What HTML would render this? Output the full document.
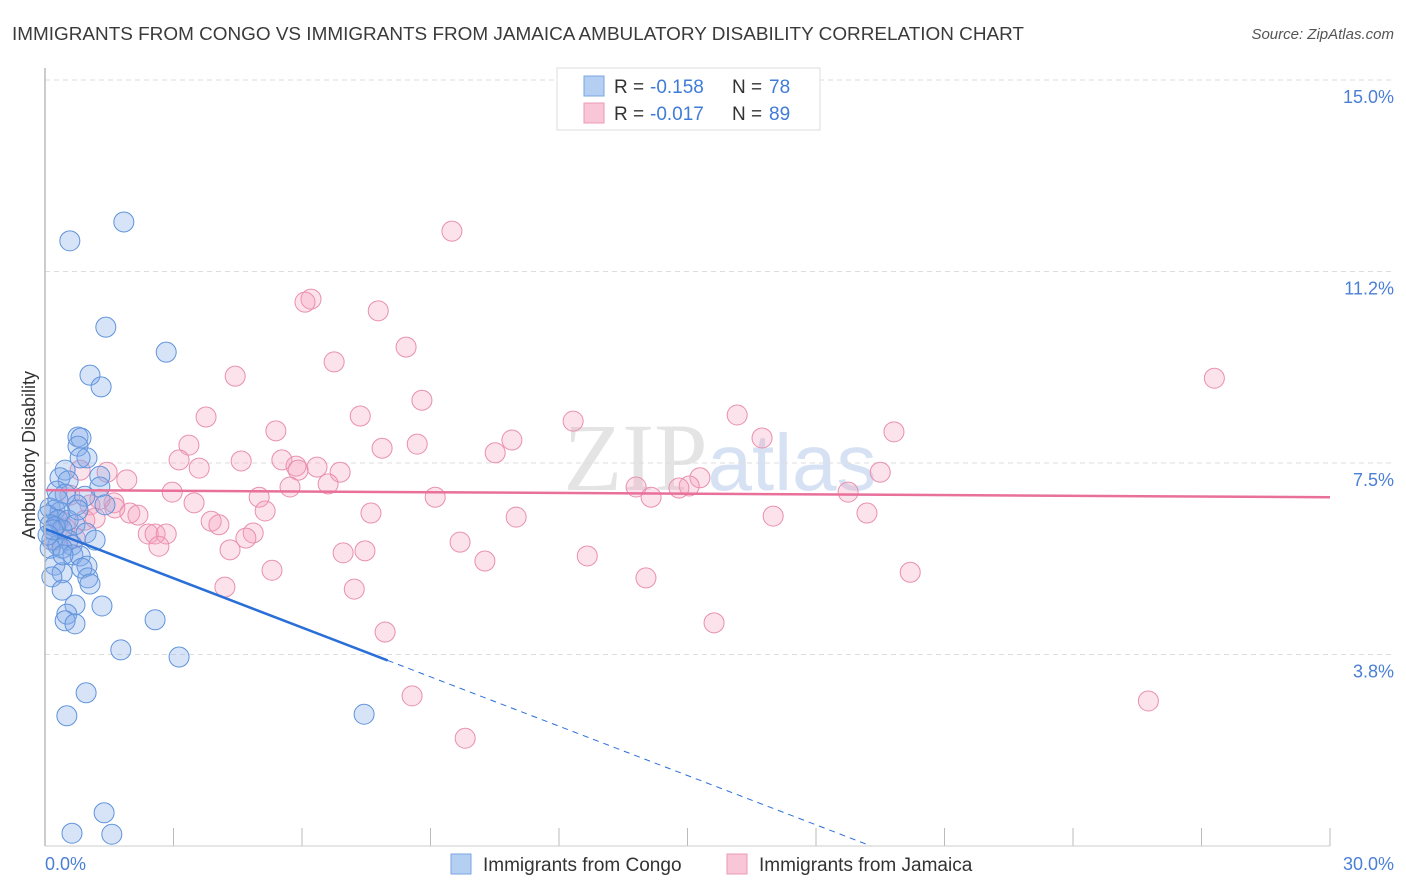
<!DOCTYPE html>
<html><head><meta charset="utf-8"><style>
body{margin:0;background:#fff;font-family:"Liberation Sans",sans-serif}
svg{display:block}
</style></head><body>
<svg id="chart" width="1406" height="892">
<text x="12" y="40" font-size="18.5" fill="#3a3a3a" textLength="1012" lengthAdjust="spacingAndGlyphs">IMMIGRANTS FROM CONGO VS IMMIGRANTS FROM JAMAICA AMBULATORY DISABILITY CORRELATION CHART</text>
<text x="1394" y="39" font-size="15" fill="#555" font-style="italic" text-anchor="end">Source: ZipAtlas.com</text>
<text x="720" y="490" font-size="96" fill="#e4e4e4" text-anchor="middle" font-family="Liberation Serif,serif">ZIP<tspan fill="#d6e2f3" font-family="Liberation Sans,sans-serif" font-size="80">atlas</tspan></text>
<text transform="translate(35,455) rotate(-90)" font-size="18" fill="#333" text-anchor="middle">Ambulatory Disability</text>
<g id="grid"></g><g id="pts"></g><g id="lines"></g>
<line x1="45" y1="68" x2="45" y2="846" stroke="#bbb" stroke-width="1.5"/>
<line x1="45" y1="846" x2="1330" y2="846" stroke="#ccc" stroke-width="1"/>
<text x="45" y="870" font-size="18" fill="#4a7fd6">0.0%</text>
<text x="1394" y="870" font-size="18" fill="#4a7fd6" text-anchor="end">30.0%</text>
<g>
<rect x="557" y="68" width="263" height="62" fill="#fff" stroke="#ddd"/>
<rect x="584" y="76" width="20" height="20" fill="#b5cff3" stroke="#7aa5e3"/>
<rect x="584" y="103" width="20" height="20" fill="#f8c6d6" stroke="#ec9ab5"/>
<text x="614" y="93" font-size="19" fill="#333">R =</text>
<text x="650" y="93" font-size="19" fill="#3f7bd8">-0.158</text>
<text x="732" y="93" font-size="19" fill="#333">N =</text>
<text x="769" y="93" font-size="19" fill="#3f7bd8">78</text>
<text x="614" y="120" font-size="19" fill="#333">R =</text>
<text x="650" y="120" font-size="19" fill="#3f7bd8">-0.017</text>
<text x="732" y="120" font-size="19" fill="#333">N =</text>
<text x="769" y="120" font-size="19" fill="#3f7bd8">89</text>
</g>
<g>
<rect x="451" y="854" width="20" height="20" fill="#b5cff3" stroke="#7aa5e3"/>
<text x="483" y="871" font-size="19" fill="#333">Immigrants from Congo</text>
<rect x="727" y="854" width="20" height="20" fill="#f8c6d6" stroke="#ec9ab5"/>
<text x="759" y="871" font-size="19" fill="#333">Immigrants from Jamaica</text>
</g>
</svg>
<script>
const yTicks=[3.75,7.5,11.25,15];
const yTickLabels=["3.8%","7.5%","11.2%","15.0%"];
const xTicks=[0,3,6,9,12,15,18,21,24,27,30];
const congoX=[1.84,0.58,1.42,2.83,1.05,1.31,0.77,0.84,0.77,0.98,0.82,0.47,0.35,1.28,0.54,1.28,0.28,0.47,0.93,0.75,1.40,0.12,0.23,0.35,0.07,0.30,0.54,0.12,0.23,0.70,0.40,0.96,0.16,0.54,0.30,0.63,1.17,0.40,0.12,0.65,0.82,0.23,0.98,0.86,0.40,0.16,1.00,1.05,0.40,0.70,1.33,0.51,2.57,0.47,0.70,1.77,3.13,0.96,0.51,7.45,1.38,0.63,1.56,0.30,0.19,0.07,0.42,0.77];
const congoY=[12.22,11.85,10.16,9.67,9.22,8.99,8.01,7.99,7.83,7.60,7.60,7.36,7.21,7.24,7.15,7.03,6.95,6.89,6.85,6.68,6.68,6.62,6.58,6.54,6.48,6.38,6.38,6.29,6.25,6.29,6.19,6.13,5.99,5.99,5.89,5.89,5.99,5.83,5.83,5.70,5.68,5.50,5.48,5.44,5.35,5.27,5.25,5.13,5.01,4.72,4.70,4.54,4.43,4.41,4.35,3.84,3.70,3.00,2.55,2.58,0.65,0.25,0.23,6.78,6.19,6.09,5.70,6.58];
const jamX=[9.50,6.21,6.07,7.78,8.43,6.75,4.44,27.30,8.80,3.76,7.36,16.16,12.33,5.39,19.82,3.36,16.74,10.90,7.87,8.69,10.51,3.13,4.58,5.53,3.60,5.86,6.35,5.91,6.89,19.50,1.45,15.29,15.04,14.80,13.80,6.61,5.72,1.91,2.97,5.00,9.11,14.15,18.75,3.48,1.61,1.98,2.17,5.14,7.61,11.00,17.00,19.19,3.88,4.06,4.86,2.41,2.57,2.83,2.66,4.32,9.69,4.69,12.66,6.96,7.47,10.27,5.30,20.20,14.03,4.20,7.22,15.62,7.94,8.57,25.76,9.81,0.82,0.58,1.05,0.35,0.93,1.17,0.23,1.63,0.70,0.47,1.28];
const jamY=[12.04,10.71,10.65,10.48,9.77,9.48,9.20,9.16,8.73,8.40,8.42,8.44,8.32,8.13,8.11,7.85,7.99,7.95,7.79,7.87,7.70,7.56,7.54,7.56,7.40,7.44,7.42,7.36,7.32,7.32,7.32,7.21,7.05,7.01,7.03,7.09,7.03,7.17,6.93,6.83,6.83,6.83,6.93,6.72,6.72,6.52,6.48,6.56,6.52,6.44,6.46,6.52,6.36,6.29,6.13,6.11,6.11,6.11,5.87,5.80,5.95,6.03,5.68,5.74,5.78,5.58,5.40,5.36,5.25,5.07,5.03,4.37,4.19,2.94,2.84,2.11,7.36,6.87,6.68,6.38,6.38,6.42,5.99,6.62,6.03,6.23,6.79];
const congoTrend=[6.21,-0.322];
const jamTrend=[6.97,-0.0047];
const NS='http://www.w3.org/2000/svg';
const sx=v=>45+v/30*1285, sy=v=>846-v/15*766;
function mk(tag,attrs,parent){const e=document.createElementNS(NS,tag);for(const k in attrs)e.setAttribute(k,attrs[k]);parent.appendChild(e);return e;}
const grid=document.getElementById('grid');
yTicks.forEach((t,i)=>{
 const l=mk('line',{x1:45,x2:1394,y1:sy(t),y2:sy(t),stroke:'#ddd','stroke-dasharray':'5,4'},grid);
 
 
 const tx=mk('text',{x:1394,y:sy(t)+23,'font-size':18,fill:'#4a7fd6','text-anchor':'end'},grid);
 tx.textContent=yTickLabels[i];
 
 
});
xTicks.forEach(t=>{
 const l=mk('line',{x1:sx(t),x2:sx(t),y1:828,y2:846,stroke:'#bbb'},grid);
 
 
});
const pts=document.getElementById('pts');
jamX.forEach((x,i)=>{
 const c=mk('circle',{cx:sx(x),cy:sy(jamY[i]),r:10,fill:'rgba(244,160,188,0.3)',stroke:'#e98fae','stroke-width':1},pts);
 
 
});
congoX.forEach((x,i)=>{
 const c=mk('circle',{cx:sx(x),cy:sy(congoY[i]),r:10,fill:'rgba(130,170,232,0.32)',stroke:'#5f93db','stroke-width':1},pts);
 
 
});
const lines=document.getElementById('lines');
const f=(tr,x)=>tr[0]+tr[1]*x;
let l1=mk('line',{x1:sx(0),y1:sy(f(congoTrend,0)),x2:sx(8),y2:sy(f(congoTrend,8)),stroke:'#2a6fd8','stroke-width':2.5},lines);


const xEnd=-congoTrend[0]/congoTrend[1];
let l2=mk('line',{x1:sx(8),y1:sy(f(congoTrend,8)),x2:sx(xEnd),y2:sy(0),stroke:'#2a6fd8','stroke-width':1,'stroke-dasharray':'6,5'},lines);


let l3=mk('line',{x1:sx(0),y1:sy(f(jamTrend,0)),x2:sx(30),y2:sy(f(jamTrend,30)),stroke:'#e8709a','stroke-width':2.5},lines);


</script>
</body></html>
